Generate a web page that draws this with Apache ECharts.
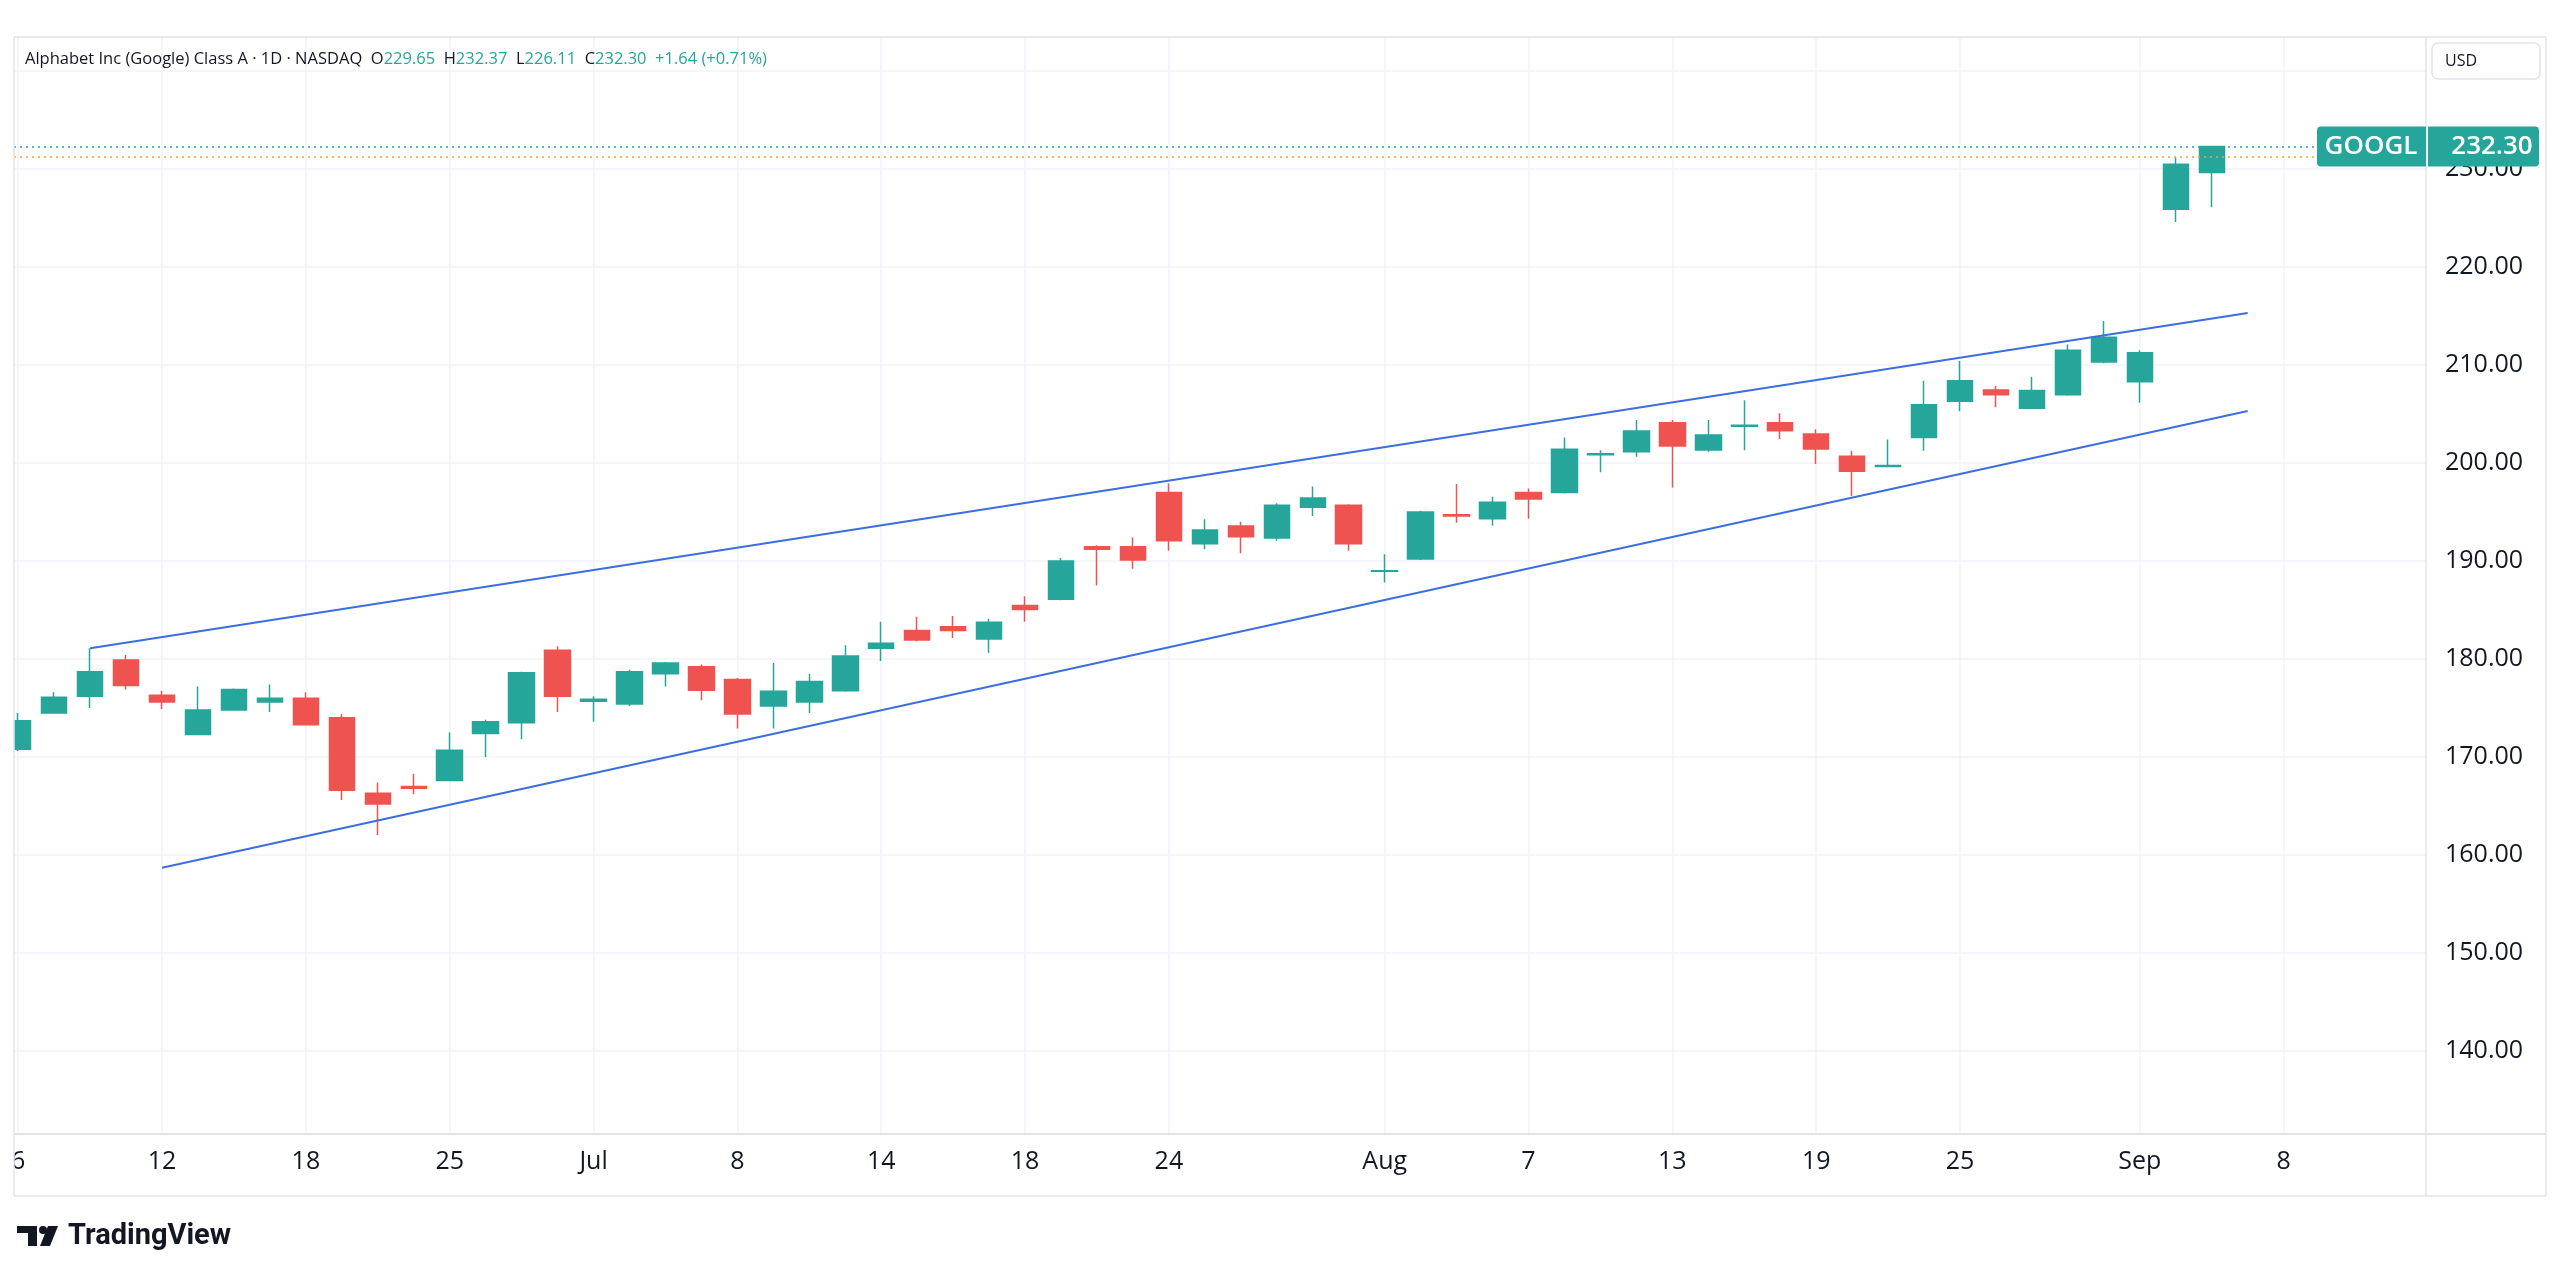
<!DOCTYPE html>
<html>
<head>
<meta charset="utf-8">
<title>GOOGL 1D</title>
<script src="https://cdn.jsdelivr.net/npm/echarts@6/dist/echarts.min.js"></script>
<style>
    html, body { margin: 0; padding: 0; background: #fff; }
    #main { width: 2560px; height: 1279px; }
</style>
</head>
<body>
<div id="main"></div>
<script>
    // daily bars, Jun 6 - Sep 4 2025
    const dates = ['Jun 6','Jun 9','Jun 10','Jun 11','Jun 12','Jun 13','Jun 16','Jun 17','Jun 18','Jun 20',
        'Jun 23','Jun 24','Jun 25','Jun 26','Jun 27','Jun 30','Jul 1','Jul 2','Jul 3','Jul 7',
        'Jul 8','Jul 9','Jul 10','Jul 11','Jul 14','Jul 15','Jul 16','Jul 17','Jul 18','Jul 21',
        'Jul 22','Jul 23','Jul 24','Jul 25','Jul 28','Jul 29','Jul 30','Jul 31','Aug 1','Aug 4',
        'Aug 5','Aug 6','Aug 7','Aug 8','Aug 11','Aug 12','Aug 13','Aug 14','Aug 15','Aug 18',
        'Aug 19','Aug 20','Aug 21','Aug 22','Aug 25','Aug 26','Aug 27','Aug 28','Aug 29','Sep 2',
        'Sep 3','Sep 4'];
    const opens = [170.8,174.5,176.2,179.9,176.3,172.3,174.8,175.6,176.0,174.0,
        166.3,167.0,167.6,172.4,173.5,180.9,175.7,175.4,178.5,179.2,
        177.9,175.2,175.6,176.75,181.1,182.9,183.3,182.05,185.47,186.1,
        191.46,191.46,197.0,191.77,193.57,192.35,195.48,195.7,188.95,190.2,
        194.73,194.3,197.0,197.0,200.85,201.15,204.1,201.33,203.75,204.1,
        202.96,200.7,199.65,202.6,206.3,207.45,205.58,206.97,210.3,208.3,
        225.9,229.65];
    const highs = [174.5,176.6,181.1,180.4,176.75,177.2,177.0,177.4,176.6,174.4,
        167.4,168.3,172.5,173.8,178.7,181.3,176.2,178.9,179.7,179.45,
        178.05,179.6,178.5,181.4,183.8,184.3,184.4,184.1,186.4,190.3,
        191.6,192.4,197.9,194.26,194.0,195.9,197.6,195.8,190.7,195.13,
        197.86,196.56,197.4,202.6,201.3,204.4,204.4,204.4,206.4,205.07,
        203.44,201.26,202.4,208.4,210.4,207.86,208.8,212.1,214.5,211.5,
        231.2,232.37];
    const lows = [170.6,174.5,175.0,176.9,174.9,172.3,174.8,174.6,173.3,165.6,
        162.05,166.2,167.6,170.0,171.8,174.6,173.6,175.2,177.2,175.8,
        172.9,172.9,174.5,176.65,179.8,181.8,182.15,180.65,183.8,186.0,
        187.5,189.2,191.05,191.19,190.8,192.07,194.6,191.05,187.8,190.1,
        193.9,193.6,194.3,196.9,199.05,200.65,197.5,201.15,201.3,202.45,
        199.9,196.63,199.56,201.26,205.27,205.68,205.58,206.87,210.17,206.15,
        224.6,226.11];
    const closes = [173.7,176.1,178.7,177.3,175.6,174.8,176.9,176.0,173.3,166.6,
        165.2,166.8,170.7,173.6,178.6,176.2,175.9,178.7,179.6,176.8,
        174.4,176.7,177.7,180.3,181.6,181.95,182.9,183.76,185.06,190.0,
        191.2,190.1,192.07,193.16,192.48,195.7,196.43,191.77,189.0,195.0,
        194.6,196.0,196.33,201.4,200.95,203.27,201.73,202.86,203.85,203.3,
        201.43,199.15,199.75,205.95,208.4,206.97,207.4,211.5,212.83,211.26,
        230.48,232.30];

    // date axis labels (bar index -> text); 63 = Sep 8, a future slot
    const tickIndex = [0, 4, 8, 12, 16, 20, 24, 28, 32, 38, 42, 46, 50, 54, 59, 63];
    const tickLabels = ['6','12','18','25','Jul','8','14','18','24','Aug','7','13','19','25','Sep','8'];

    // drawn channel: [bar index, price]
    const upperLine = [[2, 181.1], [62, 215.3]];
    const lowerLine = [[4, 158.7], [62, 205.3]];

    const lastClose = 232.30;
    const extLine = 231.2;
    const change = '+1.64';
    const changePct = '+0.71%';

    const UP = '#26a69a';
    const DOWN = '#ef5350';
    const TXT = '#131722';
    const FRAME = '#e0e3eb';
    const FONT = '"Open Sans", sans-serif';

    // pane bounds in the screenshot
    const paneL = 14, paneT = 37, paneR = 2426, paneB = 1134;
    const outerR = 2546, outerB = 1196;
    const xMin = -0.117, xMax = 66.958;

    const candles = dates.map(function (d, i) {
        return [i, opens[i], closes[i], lows[i], highs[i]];
    });

    const chart = echarts.init(document.getElementById('main'));

    chart.setOption({
        animation: false,
        backgroundColor: '#ffffff',
        grid: {
            left: paneL, top: paneT, right: 2560 - paneR, bottom: 1279 - paneB,
            outerBoundsMode: 'none'
        },
        xAxis: {
            type: 'value',
            min: xMin,
            max: xMax,
            axisLine: { show: false },
            axisTick: { show: false, customValues: tickIndex },
            splitLine: { show: true, lineStyle: { color: '#f0f3fa', width: 1.5 } },
            axisLabel: {
                customValues: tickIndex,
                formatter: function (v) {
                    const k = tickIndex.indexOf(Math.round(v));
                    return k >= 0 ? tickLabels[k] : '';
                },
                color: TXT, fontSize: 25, fontFamily: FONT, margin: 15
            }
        },
        yAxis: {
            type: 'value',
            position: 'right',
            min: 131.53,
            max: 243.47,
            splitNumber: 11,
            axisLine: { show: false },
            axisTick: { show: false },
            splitLine: { lineStyle: { color: '#f0f3fa', width: 1.5 } },
            axisLabel: {
                showMinLabel: false,
                showMaxLabel: false,
                formatter: function (v) { return v.toFixed(2); },
                color: TXT, fontSize: 25, fontFamily: FONT, margin: 19
            }
        },
        series: [
            {
                type: 'candlestick',
                data: candles,
                barWidth: 26,
                itemStyle: {
                    color: UP, color0: DOWN,
                    borderColor: UP, borderColor0: DOWN,
                    borderWidth: 1.5
                },
                markLine: {
                    silent: true,
                    symbol: 'none',
                    animation: false,
                    label: { show: false },
                    data: [
                        [{ coord: [xMin, lastClose], lineStyle: { color: UP, type: [2, 4], width: 1.5 } },
                         { coord: [64, lastClose] }],
                        [{ coord: [xMin, extLine], lineStyle: { color: '#f5a623', type: [2, 4], width: 1.5 } },
                         { coord: [64, extLine] }]
                    ]
                }
            },
            {
                type: 'line',
                data: upperLine,
                symbol: 'none',
                silent: true,
                z: 4,
                lineStyle: { color: '#3d6ee0', width: 2 }
            },
            {
                type: 'line',
                data: lowerLine,
                symbol: 'none',
                silent: true,
                z: 4,
                lineStyle: { color: '#3d6ee0', width: 2 }
            }
        ]
    });

    // price tag at the last close
    const tagY = chart.convertToPixel({ yAxisIndex: 0 }, lastClose);

    const header = '{n|Alphabet Inc (Google) Class A · 1D · NASDAQ}  ' +
        '{k|O}{v|' + opens[opens.length - 1].toFixed(2) + '}  ' +
        '{k|H}{v|' + highs[highs.length - 1].toFixed(2) + '}  ' +
        '{k|L}{v|' + lows[lows.length - 1].toFixed(2) + '}  ' +
        '{k|C}{v|' + lastClose.toFixed(2) + '}  ' +
        '{v|' + change + ' (' + changePct + ')}';

    chart.setOption({
        graphic: [
            // left edge of the pane cuts the first bar and label
            { type: 'rect', z: 5, shape: { x: 0, y: paneT, width: paneL, height: outerB - paneT }, style: { fill: '#fff' } },
            // frame
            { type: 'line', z: 6, shape: { x1: paneL, y1: paneT, x2: outerR, y2: paneT }, style: { stroke: FRAME, lineWidth: 1.5 } },
            { type: 'line', z: 6, shape: { x1: paneL, y1: paneT, x2: paneL, y2: outerB }, style: { stroke: FRAME, lineWidth: 1.5 } },
            { type: 'line', z: 6, shape: { x1: paneL, y1: paneB, x2: outerR, y2: paneB }, style: { stroke: FRAME, lineWidth: 2 } },
            { type: 'line', z: 6, shape: { x1: paneR, y1: paneT, x2: paneR, y2: outerB }, style: { stroke: FRAME, lineWidth: 1.5 } },
            { type: 'line', z: 6, shape: { x1: outerR, y1: paneT, x2: outerR, y2: outerB }, style: { stroke: FRAME, lineWidth: 1.5 } },
            { type: 'line', z: 6, shape: { x1: paneL, y1: outerB, x2: outerR, y2: outerB }, style: { stroke: FRAME, lineWidth: 1.5 } },
            // legend line
            {
                type: 'text', z: 7, x: 25, y: 59,
                style: {
                    text: header,
                    fontSize: 16.5, fontFamily: FONT, fill: TXT, verticalAlign: 'middle',
                    rich: {
                        n: { fontSize: 16.5, fontFamily: FONT, fill: TXT },
                        k: { fontSize: 16.5, fontFamily: FONT, fill: TXT },
                        v: { fontSize: 16.5, fontFamily: FONT, fill: UP }
                    }
                }
            },
            // currency button
            { type: 'rect', z: 7, shape: { x: 2432, y: 43, width: 108, height: 36, r: 6 }, style: { fill: '#fff', stroke: FRAME, lineWidth: 1.5 } },
            { type: 'text', z: 8, x: 2445, y: 61, style: { text: 'USD', fontSize: 16, fontFamily: FONT, fill: TXT, verticalAlign: 'middle' } },
            // last price tags
            { type: 'rect', z: 8, shape: { x: 2317, y: tagY - 20, width: 109, height: 40, r: [4, 0, 0, 4] }, style: { fill: UP } },
            { type: 'text', z: 9, x: 2371, y: tagY, style: { text: 'GOOGL', fontSize: 26, fontWeight: 600, fontFamily: FONT, fill: '#fff', align: 'center', verticalAlign: 'middle' } },
            { type: 'rect', z: 8, shape: { x: 2428, y: tagY - 20, width: 111, height: 40, r: [0, 4, 4, 0] }, style: { fill: UP } },
            { type: 'text', z: 9, x: 2492, y: tagY, style: { text: lastClose.toFixed(2), fontSize: 26, fontWeight: 600, fontFamily: FONT, fill: '#fff', align: 'center', verticalAlign: 'middle' } },
            // TradingView mark
            { type: 'polygon', z: 7, shape: { points: [[17, 1226], [37, 1226], [37, 1246], [28, 1246], [28, 1233], [17, 1233]] }, style: { fill: '#131722' } },
            { type: 'circle', z: 7, shape: { cx: 43, cy: 1230, r: 4 }, style: { fill: '#131722' } },
            { type: 'polygon', z: 7, shape: { points: [[48, 1226], [58, 1226], [50, 1246], [40, 1246]] }, style: { fill: '#131722' } },
            { type: 'text', z: 7, x: 68, y: 1237, style: { text: 'TradingView', fontSize: 29, fontWeight: 700, fontFamily: 'Roboto, sans-serif', fill: '#131722', verticalAlign: 'middle' } }
        ]
    });
</script>
</body>
</html>
